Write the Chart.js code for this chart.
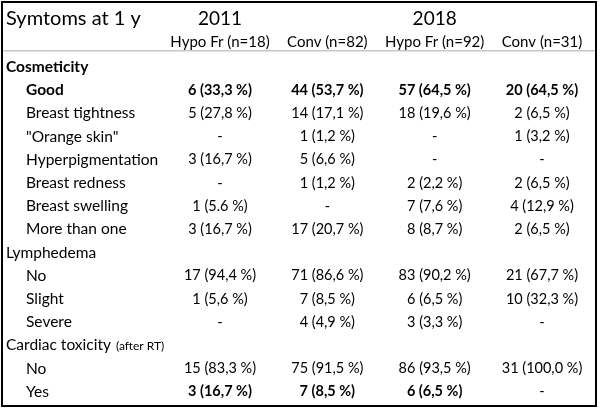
<!DOCTYPE html>
<html>
<head>
<meta charset="utf-8">
<script src="https://cdn.jsdelivr.net/npm/chart.js@4.4.1/dist/chart.umd.min.js"></script>
<style>
html,body{margin:0;padding:0;background:#fff;}
#wrap{position:relative;width:600px;height:413px;}
</style>
</head>
<body>
<div id="wrap"><canvas id="c"></canvas></div>
<script>
// ---- data ----
const titleText = 'Symtoms at 1 y';
const years = ['2011', '2018'];
const groupLabels = ['Hypo Fr (n=18)', 'Conv (n=82)', 'Hypo Fr (n=92)', 'Conv (n=31)'];
const rowLabels = ['Cosmeticity', 'Good', 'Breast tightness', '"Orange skin"', 'Hyperpigmentation',
  'Breast redness', 'Breast swelling', 'More than one', 'Lymphedema', 'No', 'Slight', 'Severe',
  'Cardiac toxicity', 'No', 'Yes'];
const rowNotes = {12: '(after RT)'};
const sectionRows = [0, 8, 12];
const boldLabelRows = [0, 1];
const boldValueRows = [1, 14];
const hypoFr2011 = [null, '6 (33,3 %)', '5 (27,8 %)', '-', '3 (16,7 %)', '-', '1 (5.6 %)', '3 (16,7 %)',
  null, '17 (94,4 %)', '1 (5,6 %)', '-', null, '15 (83,3 %)', '3 (16,7 %)'];
const conv2011 = [null, '44 (53,7 %)', '14 (17,1 %)', '1 (1,2 %)', '5 (6,6 %)', '1 (1,2 %)', '-', '17 (20,7 %)',
  null, '71 (86,6 %)', '7 (8,5 %)', '4 (4,9 %)', null, '75 (91,5 %)', '7 (8,5 %)'];
const hypoFr2018 = [null, '57 (64,5 %)', '18 (19,6 %)', '-', '-', '2 (2,2 %)', '7 (7,6 %)', '8 (8,7 %)',
  null, '83 (90,2 %)', '6 (6,5 %)', '3 (3,3 %)', null, '86 (93,5 %)', '6 (6,5 %)'];
const conv2018 = [null, '20 (64,5 %)', '2 (6,5 %)', '1 (3,2 %)', '-', '2 (6,5 %)', '4 (12,9 %)', '2 (6,5 %)',
  null, '21 (67,7 %)', '10 (32,3 %)', '-', null, '31 (100,0 %)', '-'];
const columns = [hypoFr2011, conv2011, hypoFr2018, conv2018];

// ---- layout ----
const FONT = 'Lato, "Open Sans", sans-serif';
const X_MIN = -1.0497, X_MAX = 4.5404;
const Y_MIN = -2.888, Y_MAX = 14.914;
const TITLE_ROW = -2.08, SUB_ROW = -1.08;

const datasets = [];
datasets.push({
  label: 'labels',
  data: rowLabels.map((t, i) => ({x: X_MIN, y: i, t: t, kind: 'label', row: i})),
});
columns.forEach((col, ci) => {
  datasets.push({
    label: groupLabels[ci],
    data: col.map((t, i) => t === null ? null : ({x: ci + 1, y: i, t: t, kind: 'cell', row: i}))
      .filter(d => d !== null)
  });
});
datasets.push({
  label: 'years',
  data: years.map((t, i) => ({x: 1 + 2 * i, y: TITLE_ROW, t: t, kind: 'year'}))
});
datasets.push({
  label: 'groups',
  data: groupLabels.map((t, i) => ({x: i + 1, y: SUB_ROW, t: t, kind: 'group'}))
});
datasets.push({
  label: 'title',
  data: [{x: X_MIN, y: TITLE_ROW, t: titleText, kind: 'title'}]
});
datasets.forEach(d => { d.pointRadius = 0; d.pointHoverRadius = 0; d.showLine = false; });

const tablePlugin = {
  id: 'tablePlugin',
  afterDatasetsDraw(chart) {
    const ctx = chart.ctx;
    const ys = chart.scales.y;
    ctx.save();
    const sepY = ys.getPixelForValue(-0.7);
    ctx.strokeStyle = '#c8c8c8';
    ctx.lineWidth = 1.5;
    ctx.beginPath(); ctx.moveTo(2, sepY); ctx.lineTo(596, sepY); ctx.stroke();
    ctx.fillStyle = '#000';
    ctx.textBaseline = 'middle';
    chart.data.datasets.forEach((ds, di) => {
      const meta = chart.getDatasetMeta(di);
      meta.data.forEach((el, j) => {
        const d = ds.data[j];
        let x = el.x, y = el.y;
        if (d.kind === 'title') {
          ctx.font = '20px ' + FONT; ctx.textAlign = 'left';
          ctx.fillText(d.t, x + 6, y);
        } else if (d.kind === 'year') {
          ctx.font = '19px ' + FONT; ctx.textAlign = 'center';
          ctx.fillText(d.t, x, y);
        } else if (d.kind === 'group') {
          ctx.font = '15px ' + FONT; ctx.textAlign = 'center';
          ctx.fillText(d.t, x, y);
        } else if (d.kind === 'label') {
          const sec = sectionRows.includes(d.row);
          const bold = boldLabelRows.includes(d.row);
          ctx.font = (bold ? 'bold ' : '') + '15.5px ' + FONT; ctx.textAlign = 'left';
          const lx = x + (sec ? 6 : 26);
          ctx.fillText(d.t, lx, y);
          if (rowNotes[d.row]) {
            const w = ctx.measureText(d.t).width;
            ctx.font = '12px ' + FONT;
            ctx.fillText(rowNotes[d.row], lx + w + 5, y + 1);
          }
        } else {
          const bold = boldValueRows.includes(d.row) && d.t !== '-';
          ctx.font = (bold ? 'bold ' : '') + '14.5px ' + FONT; ctx.textAlign = 'center';
          ctx.fillText(d.t, x, y);
        }
      });
    });
    ctx.strokeStyle = '#000';
    ctx.lineWidth = 2;
    ctx.strokeRect(2, 2, 594, 404);
    ctx.restore();
  }
};

new Chart(document.getElementById('c'), {
  type: 'scatter',
  data: {datasets: datasets},
  options: {
    responsive: true,
    maintainAspectRatio: false,
    animation: false,
    events: [],
    layout: {padding: 0},
    plugins: {legend: {display: false}, tooltip: {enabled: false}},
    scales: {
      x: {type: 'linear', display: false, min: X_MIN, max: X_MAX},
      y: {type: 'linear', display: false, reverse: true, min: Y_MIN, max: Y_MAX}
    }
  },
  plugins: [tablePlugin]
});
</script>
</body>
</html>
